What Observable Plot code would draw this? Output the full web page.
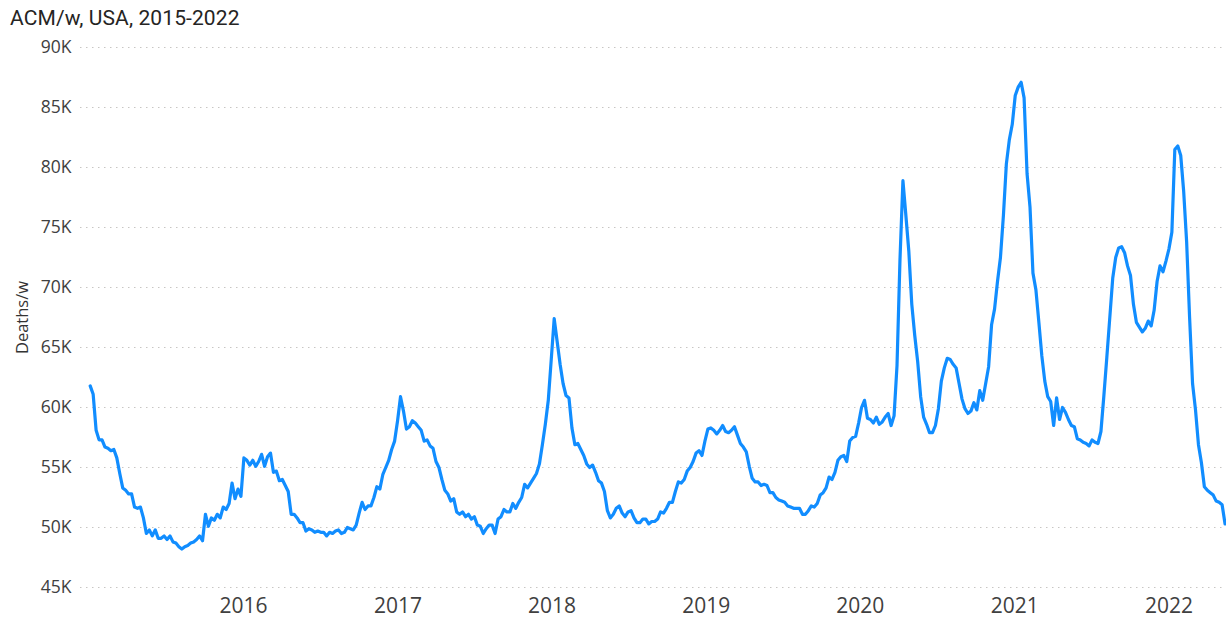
<!DOCTYPE html>
<html>
<head>
<meta charset="utf-8">
<script src="https://cdn.jsdelivr.net/npm/d3@7"></script>
<script src="https://cdn.jsdelivr.net/npm/@observablehq/plot@0.6"></script>
<style>
  html, body { margin: 0; padding: 0; background: #ffffff; }
  #title {
    height: 32px; line-height: 36px; padding-left: 10px; overflow: visible;
    font-family: Roboto, "Noto Sans", sans-serif; font-size: 21px; color: #252423;
    white-space: nowrap; letter-spacing: 0.1px;
  }
  #chart svg { display: block; }
</style>
</head>
<body>
<div id="title">ACM/w, USA, 2015-2022</div>
<div id="chart"></div>
<script>
// Weekly all-cause deaths (thousands), weeks starting 2015-01-03
const firstWeek = "2015-01-03";
const w2015 = [61.8, 61.1, 58.1, 57.3, 57.3, 56.7, 56.6, 56.4, 56.5, 55.8,
  54.5, 53.3, 53.1, 52.8, 52.8, 51.7, 51.6, 51.7, 50.8, 49.5,
  49.8, 49.3, 49.8, 49.1, 49.1, 49.3, 49.0, 49.3, 48.8, 48.7,
  48.4, 48.2, 48.4, 48.5, 48.7, 48.8, 49.0, 49.3, 48.9, 51.1,
  50.1, 50.8, 50.6, 51.1, 50.8, 51.7, 51.5, 52.0, 53.7, 52.4,
  53.2, 52.6];
const w2016 = [55.8, 55.6, 55.2, 55.6, 55.1, 55.5, 56.1, 55.1, 55.9, 56.2,
  54.6, 54.7, 53.9, 54.0, 53.5, 53.0, 51.1, 51.1, 50.8, 50.4,
  50.4, 49.7, 49.9, 49.8, 49.6, 49.7, 49.6, 49.6, 49.3, 49.6,
  49.5, 49.7, 49.8, 49.5, 49.6, 50.0, 49.9, 49.8, 50.2, 51.2,
  52.1, 51.5, 51.8, 51.8, 52.5, 53.4, 53.2, 54.4, 55.0, 55.6,
  56.5, 57.2];
const w2017 = [58.9, 60.9, 59.7, 58.2, 58.4, 58.9, 58.7, 58.4, 58.1, 57.2,
  57.3, 56.8, 56.6, 55.5, 55.0, 54.0, 53.1, 52.8, 52.2, 52.4,
  51.3, 51.1, 51.3, 50.9, 51.1, 50.7, 50.9, 50.2, 50.1, 49.5,
  49.9, 50.2, 50.2, 49.5, 50.7, 50.9, 51.5, 51.3, 51.3, 52.0,
  51.6, 52.1, 52.5, 53.6, 53.3, 53.7, 54.1, 54.5, 55.3, 56.9,
  58.6, 60.6];
const w2018 = [64.0, 67.4, 65.5, 63.6, 62.0, 61.0, 60.8, 58.3, 56.9, 57.0,
  56.5, 56.0, 55.3, 55.0, 55.2, 54.6, 53.9, 53.7, 53.0, 51.4,
  50.8, 51.1, 51.6, 51.8, 51.2, 50.9, 51.3, 51.4, 50.8, 50.4,
  50.4, 50.7, 50.7, 50.3, 50.5, 50.5, 50.7, 51.3, 51.2, 51.6,
  52.1, 52.1, 53.0, 53.8, 53.7, 54.0, 54.7, 55.0, 55.5, 56.2,
  56.4, 56.0];
const w2019 = [57.2, 58.2, 58.3, 58.1, 57.8, 58.1, 58.5, 58.0, 57.9, 58.1,
  58.4, 57.7, 57.0, 56.7, 56.3, 55.1, 54.1, 53.8, 53.8, 53.5,
  53.6, 53.5, 52.9, 52.9, 52.5, 52.3, 52.2, 52.1, 51.8, 51.7,
  51.6, 51.6, 51.6, 51.1, 51.1, 51.4, 51.8, 51.7, 52.0, 52.7,
  52.9, 53.3, 54.2, 54.0, 54.6, 55.6, 55.9, 56.0, 55.5, 57.2,
  57.5, 57.6];
const w2020 = [58.7, 60.0, 60.6, 59.1, 59.0, 58.7, 59.2, 58.6, 58.8, 59.2,
  59.5, 58.5, 59.3, 63.5, 72.3, 78.9, 76.0, 73.0, 68.6, 66.0,
  63.8, 60.9, 59.2, 58.6, 57.9, 57.9, 58.5, 59.9, 62.2, 63.3,
  64.1, 64.0, 63.6, 63.3, 62.0, 60.7, 59.9, 59.5, 59.7, 60.4,
  59.8, 61.4, 60.6, 62.0, 63.4, 66.9, 68.2, 70.5, 72.5, 76.0,
  80.3, 82.3];
const w2021 = [83.6, 86.0, 86.7, 87.1, 85.8, 79.5, 76.7, 71.2, 69.8, 67.1,
  64.3, 62.2, 60.9, 60.5, 58.5, 60.8, 59.0, 60.0, 59.6, 59.0,
  58.5, 58.4, 57.4, 57.3, 57.1, 57.0, 56.8, 57.3, 57.1, 57.0,
  58.0, 61.0, 64.2, 67.5, 70.8, 72.5, 73.3, 73.4, 72.9, 71.8,
  71.0, 68.6, 67.1, 66.7, 66.3, 66.6, 67.2, 66.8, 68.1, 70.5,
  71.8, 71.3];
const w2022 = [72.2, 73.2, 74.6, 81.5, 81.8, 81.0, 78.0, 73.8, 67.5, 62.0,
  59.8, 56.9, 55.4, 53.4, 53.1, 52.9, 52.7, 52.2, 52.1, 51.9,
  50.3];

const yTicks = [45000, 50000, 55000, 60000, 65000, 70000, 75000, 80000, 85000, 90000];
const xTickYears = [2016, 2017, 2018, 2019, 2020, 2021, 2022];
const xDomain = ["2014-12-11T00:00:00Z", "2022-05-17T10:00:00Z"];

const allWeeks = [...w2015, ...w2016, ...w2017, ...w2018, ...w2019, ...w2020, ...w2021, ...w2022];
const t0 = new Date(firstWeek + "T00:00:00Z").getTime();
const data = allWeeks.map((v, i) => ({ date: new Date(t0 + i * 7 * 864e5), deaths: v * 1000 }));
const xTicks = xTickYears.map(y => new Date(Date.UTC(y, 0, 1)));

const chart = Plot.plot({
  width: 1226,
  height: 588,
  marginLeft: 80,
  marginRight: 0,
  marginTop: 15,
  marginBottom: 33,
  style: { fontFamily: "'Open Sans', 'Noto Sans', sans-serif", fontSize: "17px", color: "#404040", background: "#ffffff", overflow: "visible" },
  x: { type: "utc", domain: xDomain.map(d => new Date(d)) },
  y: { domain: [45000, 90000] },
  marks: [
    Plot.ruleY(yTicks, { stroke: "#c8c6c4", strokeWidth: 1, strokeDasharray: "1.5,4.5" }),
    Plot.line(data, { x: "date", y: "deaths", stroke: "#118DFF", strokeWidth: 3.2, strokeLinejoin: "round", clip: true }),
    Plot.axisX({ ticks: xTicks, tickFormat: d3.utcFormat("%Y"), tickSize: 0, tickPadding: 11, fontSize: 21, label: null, fill: "#404040" }),
    Plot.axisY({ ticks: yTicks, tickFormat: d => d / 1000 + "K", tickSize: 0, tickPadding: 9, fontSize: 17.5, label: null, fill: "#404040" }),
    Plot.axisY({ ticks: [], label: "Deaths/w", labelAnchor: "center", labelOffset: 64, labelArrow: "none", fontSize: 16.5, fill: "#333333" })
  ]
});
d3.select(chart).selectAll("text")
  .filter(function () { return this.textContent === "Deaths/w"; })
  .attr("font-size", 16.5).style("font-size", "16.5px");
document.getElementById("chart").appendChild(chart);
</script>
</body>
</html>
